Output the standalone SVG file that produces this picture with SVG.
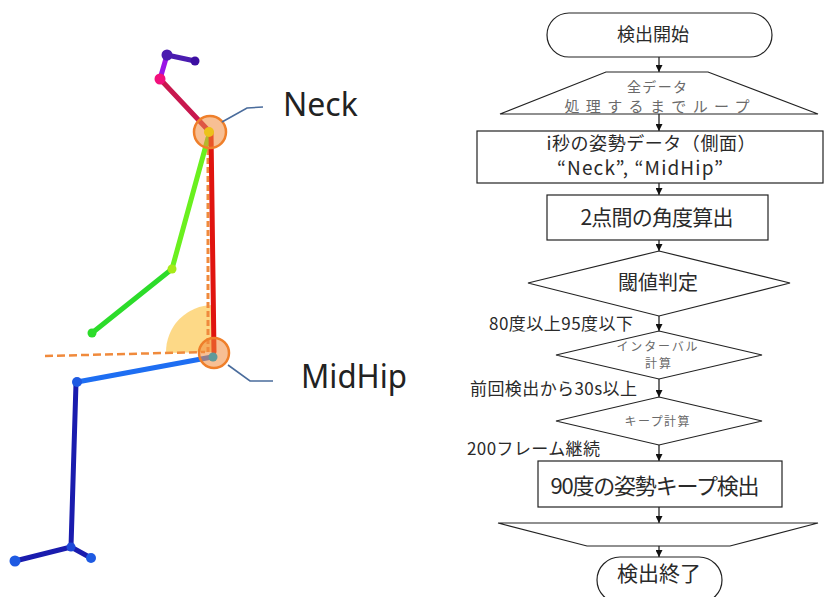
<svg xmlns="http://www.w3.org/2000/svg" width="825" height="597" viewBox="0 0 825 597">
  <defs>
    <style>
      .box { fill: #fff; stroke: #222; stroke-width: 1.2; }
      .flow { stroke: #111; stroke-width: 1.2; fill: none; }
      .jp { font-family: "Noto Sans CJK JP", "Noto Sans", sans-serif; fill: #2a2a2a; text-anchor: middle; }
      .jp-l { font-family: "Noto Sans CJK JP", "Noto Sans", sans-serif; fill: #2a2a2a; text-anchor: start; }
      .muted { fill: #6a6a6a; }
      .lbl { font-family: "Noto Sans", "Liberation Sans", sans-serif; fill: #222; font-size: 32px; }
      .leader { stroke: #4a6c9c; stroke-width: 1.6; fill: none; }
      .bone { stroke-width: 5; stroke-linecap: round; fill: none; }
      .ring { fill: #f08a3c; fill-opacity: 0.55; stroke: #ef7f2a; stroke-width: 2.5; }
    </style>
    <marker id="arr" viewBox="0 0 10 10" refX="10" refY="5" markerWidth="7" markerHeight="7" markerUnits="userSpaceOnUse" orient="auto">
      <path d="M0,0 L10,5 L0,10 z" fill="#111"/>
    </marker>
  </defs>

  <rect width="825" height="597" fill="#fff"/>

  <!-- skeleton (side view) -->
  <g id="skeleton">
    <!-- angle wedge at hip -->
    <path d="M213,352 L166,353 A47,47 0 0 1 213,305 Z" fill="#fdd57a" fill-opacity="0.9"/>
    <!-- reference lines -->
    <line x1="208" y1="140" x2="208" y2="352" stroke="#f08a3c" stroke-width="3" stroke-dasharray="6 3"/>
    <line x1="45" y1="356" x2="205" y2="352" stroke="#f08a3c" stroke-width="2.5" stroke-dasharray="8 4"/>
    <!-- head -->
    <line class="bone" x1="167" y1="55" x2="195" y2="61" stroke="#4a1cb0"/>
    <line class="bone" x1="160" y1="79" x2="167" y2="55" stroke="#9a14e6"/>
    <line class="bone" x1="160" y1="79" x2="207" y2="129" stroke="#c8184e"/>
    <!-- arm -->
    <line class="bone" x1="208" y1="138" x2="172" y2="269" stroke="#6af01e"/>
    <line class="bone" x1="172" y1="269" x2="92" y2="333" stroke="#2cdc2a"/>
    <!-- torso -->
    <line class="bone" x1="211" y1="132" x2="214" y2="352" stroke="#e0140f"/>
    <!-- leg -->
    <line class="bone" x1="212" y1="357" x2="77" y2="382" stroke="#1e6ef2"/>
    <line class="bone" x1="76" y1="383" x2="71" y2="547" stroke="#1a1cae"/>
    <line class="bone" x1="71" y1="547" x2="15" y2="561" stroke="#1a1cae"/>
    <line class="bone" x1="71" y1="547" x2="91" y2="558" stroke="#1a1cae"/>
    <!-- joints -->
    <circle cx="167" cy="55" r="5.5" fill="#4a1cb0"/>
    <circle cx="195" cy="61" r="4.5" fill="#3c0ea2"/>
    <circle cx="160" cy="79" r="5.5" fill="#f2107c"/>
    <circle cx="172" cy="269" r="4.5" fill="#a6ea18"/>
    <circle cx="92" cy="333" r="4.5" fill="#2cdc2a"/>
    <circle cx="77" cy="382" r="5" fill="#1e5ae2"/>
    <circle cx="71" cy="547" r="4.5" fill="#1e48d8"/>
    <circle cx="15" cy="561" r="5.5" fill="#1e5ae2"/>
    <circle cx="91" cy="558" r="5" fill="#1e5ae2"/>
  </g>

  <g id="neck">
    <circle class="ring" cx="210" cy="132" r="16"/>
    <circle cx="209" cy="132" r="5" fill="#ecc21a"/>
    <path class="leader" d="M222,122 L247,108 L263,107"/>
    <text class="lbl" x="283" y="116">Neck</text>
  </g>

  <g id="midhip">
    <circle class="ring" cx="214" cy="353" r="15"/>
    <circle cx="213" cy="357" r="4.5" fill="#5f9a9a"/>
    <path class="leader" d="M228,365 L250,381 L273,381"/>
    <text class="lbl" x="301" y="388" textLength="106" lengthAdjust="spacingAndGlyphs">MidHip</text>
  </g>

  <!-- flowchart connectors -->
  <g id="connectors">
    <line class="flow" x1="659" y1="57" x2="659" y2="72" marker-end="url(#arr)"/>
    <line class="flow" x1="659" y1="114" x2="659" y2="131" marker-end="url(#arr)"/>
    <line class="flow" x1="659" y1="183" x2="659" y2="195" marker-end="url(#arr)"/>
    <line class="flow" x1="659" y1="240" x2="659" y2="251" marker-end="url(#arr)"/>
    <line class="flow" x1="659" y1="316" x2="659" y2="331" marker-end="url(#arr)"/>
    <line class="flow" x1="659" y1="379" x2="659" y2="397" marker-end="url(#arr)"/>
    <line class="flow" x1="659" y1="445" x2="659" y2="461" marker-end="url(#arr)"/>
    <line class="flow" x1="659" y1="507" x2="659" y2="523" marker-end="url(#arr)"/>
    <line class="flow" x1="659" y1="546" x2="659" y2="557" marker-end="url(#arr)"/>
    <text class="jp-l" x="489" y="330" font-size="17" textLength="144">80度以上95度以下</text>
    <text class="jp-l" x="470" y="395" font-size="17" textLength="167">前回検出から30s以上</text>
    <text class="jp-l" x="467" y="455" font-size="17" textLength="133">200フレーム継続</text>
  </g>

  <g id="start">
    <rect class="box" x="547" y="13" width="225" height="44" rx="22" ry="22"/>
    <text class="jp" x="653" y="41" font-size="18">検出開始</text>
  </g>

  <g id="loop-start">
    <polygon class="box" points="606,72 708,72 818,114 500,114"/>
    <text class="jp muted" x="657" y="92" font-size="14" textLength="60">全データ</text>
    <text class="jp muted" x="657" y="112" font-size="15" textLength="185">処理するまでループ</text>
  </g>

  <g id="pose-data">
    <rect class="box" x="477" y="131" width="346" height="52"/>
    <text class="jp" x="651" y="150" font-size="18" textLength="209">i秒の姿勢データ（側面）</text>
    <text class="jp" x="640" y="175" font-size="19" textLength="166">“Neck”, “MidHip”</text>
  </g>

  <g id="angle">
    <rect class="box" x="547" y="195" width="221" height="45"/>
    <text class="jp" x="657" y="225" font-size="21" textLength="153">2点間の角度算出</text>
  </g>

  <g id="threshold">
    <polygon class="box" points="659,251 790,283 659,316 528,283"/>
    <text class="jp" x="658" y="290" font-size="20">閾値判定</text>
  </g>

  <g id="interval">
    <polygon class="box" points="659,331 762,355 659,379 556,355"/>
    <text class="jp muted" x="657" y="351" font-size="12" textLength="81">インターバル</text>
    <text class="jp muted" x="658" y="368" font-size="12" textLength="26">計算</text>
  </g>

  <g id="keep">
    <polygon class="box" points="659,397 762,421 659,445 556,421"/>
    <text class="jp muted" x="657" y="426" font-size="12" textLength="65">キープ計算</text>
  </g>

  <g id="keep-detect">
    <rect class="box" x="538" y="461" width="244" height="46"/>
    <text class="jp" x="655" y="494" font-size="22" textLength="209">90度の姿勢キープ検出</text>
  </g>

  <g id="loop-end">
    <polygon class="box" points="498,523 818,523 730,546 587,546"/>
  </g>

  <g id="end">
    <rect class="box" x="597" y="557" width="125" height="46" rx="23" ry="23"/>
    <text class="jp" x="659" y="581" font-size="21">検出終了</text>
  </g>
</svg>
